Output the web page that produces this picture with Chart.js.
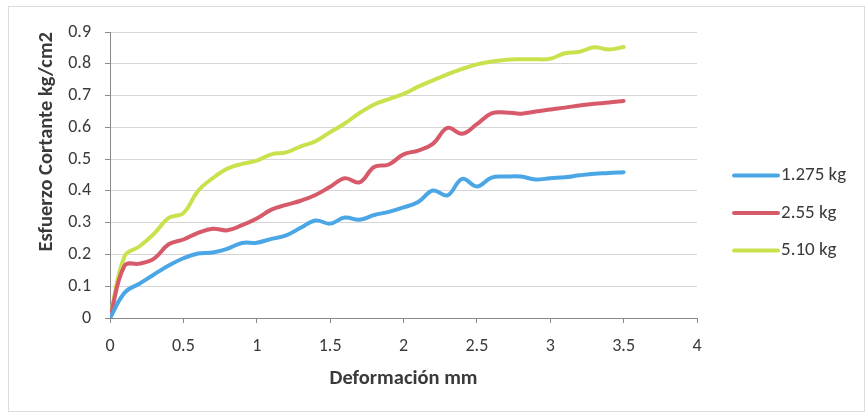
<!DOCTYPE html>
<html lang="es">
<head>
    <meta charset="UTF-8">
    <title>Esfuerzo Cortante vs Deformación</title>
    <script src="https://cdn.jsdelivr.net/npm/chart.js"></script>
    <style>
        body {
            margin: 0;
            background: #fff;
        }
        #wrap {
            position: relative;
            width: 866px;
            height: 413px;
        }
        #frame {
            position: absolute;
            left: 8px;
            top: 6px;
            width: 855px;
            height: 404px;
            border: 1px solid #dcdcdc;
            pointer-events: none;
        }
    </style>
</head>
<body>
    <div id="wrap">
        <canvas id="shearChart" width="866" height="413"></canvas>
        <div id="frame"></div>
    </div>

    <script>
        // Deformación (mm)
        const deformacion = [0, 0.1, 0.2, 0.3, 0.4, 0.5, 0.6, 0.7, 0.8, 0.9,
                             1.0, 1.1, 1.2, 1.3, 1.4, 1.5, 1.6, 1.7, 1.8, 1.9,
                             2.0, 2.1, 2.2, 2.3, 2.4, 2.5, 2.6, 2.7, 2.8, 2.9,
                             3.0, 3.1, 3.2, 3.3, 3.4, 3.5];

        // Esfuerzo cortante (kg/cm2) por carga
        const carga1275 = [0, 0.08, 0.108, 0.137, 0.165, 0.188, 0.203, 0.206, 0.218, 0.236,
                           0.237, 0.249, 0.26, 0.284, 0.307, 0.297, 0.316, 0.309, 0.324, 0.334,
                           0.348, 0.365, 0.401, 0.386, 0.438, 0.414, 0.442, 0.445, 0.445, 0.436,
                           0.44, 0.443, 0.449, 0.454, 0.456, 0.459];
        const carga255 = [0, 0.165, 0.171, 0.187, 0.232, 0.247, 0.268, 0.281, 0.276, 0.292,
                          0.313, 0.341, 0.356, 0.369, 0.387, 0.413, 0.44, 0.427, 0.475, 0.483,
                          0.515, 0.527, 0.548, 0.598, 0.58, 0.61, 0.644, 0.647, 0.643, 0.65,
                          0.656, 0.662, 0.669, 0.674, 0.678, 0.683];
        const carga510 = [0, 0.195, 0.225, 0.265, 0.315, 0.33, 0.4, 0.44, 0.47, 0.485,
                          0.495, 0.515, 0.521, 0.54, 0.556, 0.585, 0.612, 0.645, 0.672, 0.689,
                          0.705, 0.728, 0.748, 0.767, 0.784, 0.798, 0.807, 0.813, 0.814, 0.814,
                          0.816, 0.833, 0.838, 0.852, 0.845, 0.853];

        const etiquetas = ["1.275 kg", "2.55 kg", "5.10 kg"];
        const series = [carga1275, carga255, carga510];
        const colores = ["#4ba6e6", "#d65a6a", "#c8e24e"];

        const fuente = "Carlito, Calibri, Lato, sans-serif";
        const textoColor = "#3a3a3a";

        // quita el ".0" de las etiquetas (1, 2, 3...)
        const formato = v => String(Number(v.toFixed(1)));

        // leyenda a la derecha, dibujada a mano
        const leyendaPlugin = {
            id: "leyendaDerecha",
            afterDraw(chart) {
                const ctx = chart.ctx;
                const area = chart.chartArea;
                const x0 = area.right + 37;
                const midY = (area.top + area.bottom) / 2 + 38;
                ctx.save();
                chart.data.datasets.forEach((ds, i) => {
                    const y = midY + (i - 1) * 37.5;
                    ctx.strokeStyle = ds.borderColor;
                    ctx.lineWidth = 4;
                    ctx.lineCap = "round";
                    ctx.beginPath();
                    ctx.moveTo(x0, y);
                    ctx.lineTo(x0 + 44, y);
                    ctx.stroke();
                    ctx.fillStyle = textoColor;
                    ctx.font = "19px " + fuente;
                    ctx.textBaseline = "middle";
                    ctx.fillText(ds.label, x0 + 47, y);
                });
                ctx.restore();
            }
        };

        const ctx = document.getElementById("shearChart").getContext("2d");

        new Chart(ctx, {
            type: "scatter",
            data: {
                datasets: series.map((vals, i) => ({
                    label: etiquetas[i],
                    data: vals.map((v, j) => ({ x: deformacion[j], y: v })),
                    showLine: true,
                    borderColor: colores[i],
                    backgroundColor: colores[i],
                    borderWidth: 4,
                    borderCapStyle: "round",
                    tension: 0.4,
                    pointRadius: 0
                }))
            },
            options: {
                responsive: false,
                animation: false,
                layout: {
                    padding: { top: 32, right: 169, bottom: 22, left: 35 }
                },
                plugins: {
                    legend: { display: false },
                    tooltip: { enabled: false }
                },
                scales: {
                    x: {
                        type: "linear",
                        min: 0,
                        max: 4,
                        ticks: {
                            stepSize: 0.5,
                            padding: 13,
                            color: textoColor,
                            font: { family: fuente, size: 18 },
                            callback: formato
                        },
                        grid: {
                            drawOnChartArea: false,
                            tickLength: 5,
                            tickColor: "#8a8a8a"
                        },
                        border: { color: "#8a8a8a" },
                        title: {
                            display: true,
                            text: "Deformación mm",
                            color: textoColor,
                            padding: 0,
                            font: { family: fuente, size: 20.5, weight: "bold" }
                        },
                        afterFit(scale) {
                            scale.height = 73;
                        }
                    },
                    y: {
                        min: 0,
                        max: 0.9,
                        ticks: {
                            stepSize: 0.1,
                            padding: 14,
                            color: textoColor,
                            font: { family: fuente, size: 18 },
                            callback: formato
                        },
                        grid: {
                            color: "#d6d6d6",
                            tickLength: 5,
                            tickColor: "#8a8a8a"
                        },
                        border: { color: "#8a8a8a" },
                        title: {
                            display: true,
                            text: "Esfuerzo Cortante kg/cm2",
                            align: "end",
                            color: textoColor,
                            padding: 0,
                            font: { family: fuente, size: 20.5, weight: "bold" }
                        },
                        afterFit(scale) {
                            scale.width = 75;
                        }
                    }
                }
            },
            plugins: [leyendaPlugin]
        });
    </script>
</body>
</html>
